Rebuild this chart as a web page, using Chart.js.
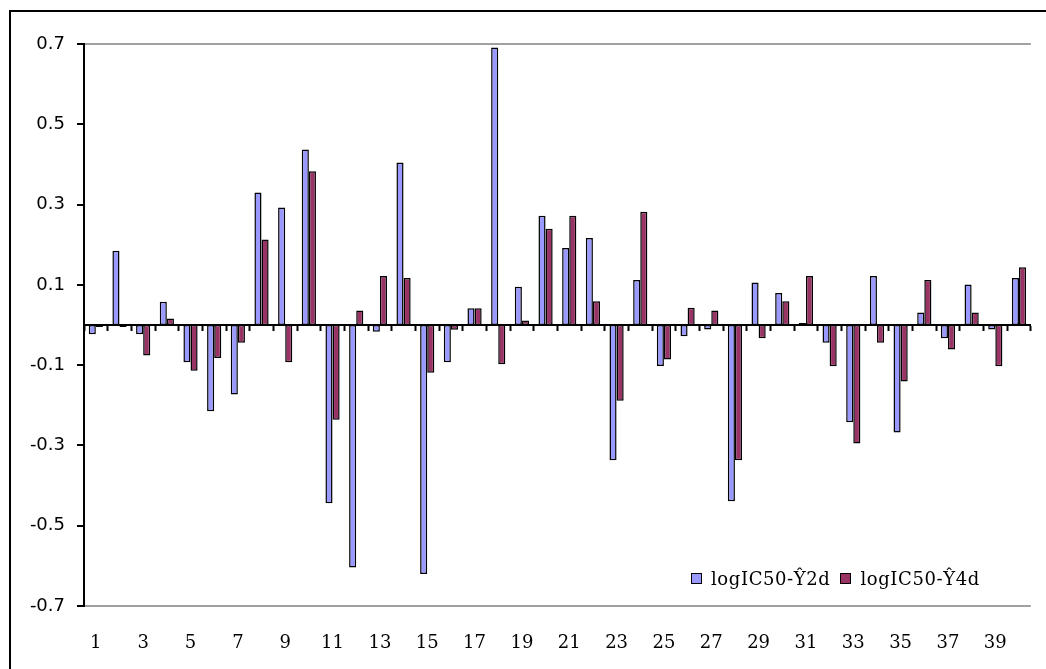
<!DOCTYPE html>
<html>
<head>
<meta charset="utf-8">
<script src="https://cdn.jsdelivr.net/npm/chart.js@4/dist/chart.umd.min.js"></script>
<style>
  html, body { margin: 0; padding: 0; background: #fff; overflow: hidden; }
  #wrap { position: relative; width: 1046px; height: 669px; }
  #frame { position: absolute; left: 9px; top: 10px; width: 1200px; height: 800px; border: 2px solid #000; box-sizing: border-box; pointer-events: none; }
  canvas { position: absolute; left: 0; top: 0; }
  #legend { position: absolute; left: 691px; top: 568px; font-family: "DejaVu Serif", serif; font-size: 18px; letter-spacing: 0.6px; color: #000; white-space: nowrap; display: flex; align-items: center; }
  .item { display: flex; align-items: center; margin-right: 10px; }
  .sw { width: 9px; height: 9px; border: 1px solid #000; margin-right: 9px; }
</style>
</head>
<body>
<div id="wrap">
  <canvas id="c" width="1046" height="669"></canvas>
  <div id="frame"></div>
  <div id="legend"></div>
</div>
<script>
const categories = ["1","2","3","4","5","6","7","8","9","10","11","12","13","14","15","16","17","18","19","20",
                    "21","22","23","24","25","26","27","28","29","30","31","32","33","34","35","36","37","38","39","40"];
const seriesNames = ["logIC50-\u01762d", "logIC50-\u01764d"];
const series2d = [-0.023, 0.185, -0.023, 0.058, -0.093, -0.215, -0.173, 0.330, 0.293, 0.437,
                  -0.444, -0.604, -0.017, 0.405, -0.620, -0.093, 0.042, 0.691, 0.095, 0.272,
                  0.192, 0.217, -0.337, 0.112, -0.102, -0.028, -0.011, -0.439, 0.106, 0.080,
                  0.005, -0.044, -0.242, 0.122, -0.268, 0.031, -0.033, 0.101, -0.011, 0.117];
const series4d = [-0.005, -0.005, -0.076, 0.016, -0.114, -0.082, -0.044, 0.213, -0.093, 0.383,
                  -0.236, 0.036, 0.122, 0.117, -0.119, -0.012, 0.042, -0.098, 0.011, 0.240,
                  0.272, 0.059, -0.189, 0.282, -0.086, 0.043, 0.036, -0.337, -0.033, 0.059,
                  0.122, -0.103, -0.295, -0.044, -0.141, 0.112, -0.061, 0.031, -0.103, 0.144];
const yTickValues = [-0.7, -0.5, -0.3, -0.1, 0.1, 0.3, 0.5, 0.7];
const seriesColors = ["#9999FF", "#993366"];

const datasets = [series2d, series4d].map((vals, i) => ({
  label: seriesNames[i],
  data: vals,
  backgroundColor: seriesColors[i],
  borderColor: "#000",
  borderWidth: 1.5,
  borderSkipped: false,
  categoryPercentage: 0.6,
  barPercentage: 1.0,
  xAxisID: "x",
  yAxisID: "y"
}));

const yMin = yTickValues[0], yMax = yTickValues[yTickValues.length - 1];

new Chart(document.getElementById("c"), {
  type: "bar",
  data: { labels: categories, datasets },
  options: {
    responsive: false,
    animation: false,
    devicePixelRatio: 1,
    layout: { padding: { top: 44, right: 2, bottom: 0, left: 0 } },
    plugins: { legend: { display: false }, tooltip: { enabled: false } },
    scales: {
      y: {
        type: "linear",
        position: "left",
        min: yMin,
        max: yMax,
        afterBuildTicks: (s) => { s.ticks = yTickValues.map(v => ({ value: v })); },
        afterFit: (s) => { s.width = 84; },
        ticks: {
          padding: 12,
          color: "#000",
          font: { family: "DejaVu Sans", size: 18 },
          callback: (v) => Number(v).toFixed(1)
        },
        grid: {
          color: (ctx) => (ctx.tick && Math.abs(Math.abs(ctx.tick.value) - yMax) < 1e-9) ? "#a0a0a0" : "rgba(0,0,0,0)",
          lineWidth: 2,
          tickColor: "#000",
          tickLength: 7,
          tickWidth: 2
        },
        border: { display: true, color: "#000", width: 2 }
      },
      x: {
        type: "category",
        position: { y: 0 },
        offset: true,
        ticks: { display: false },
        grid: { display: true, drawOnChartArea: false, offset: true, tickColor: "#000", tickLength: 5, tickWidth: 2 },
        border: { display: true, color: "#000", width: 2 }
      },
      x2: {
        type: "category",
        position: "bottom",
        labels: categories,
        offset: true,
        afterFit: (s) => { s.height = 63; },
        grid: { display: false, drawTicks: false },
        border: { display: false },
        ticks: {
          autoSkip: false,
          maxRotation: 0,
          padding: 27,
          color: "#000",
          font: { family: "DejaVu Serif", size: 18 },
          callback: (v, i) => (i % 2 === 0 ? categories[i] : "")
        }
      }
    }
  }
});

const legend = document.getElementById("legend");
seriesNames.forEach((name, i) => {
  const item = document.createElement("div");
  item.className = "item";
  const sw = document.createElement("div");
  sw.className = "sw";
  sw.style.background = seriesColors[i];
  const t = document.createElement("span");
  t.textContent = name;
  item.appendChild(sw);
  item.appendChild(t);
  legend.appendChild(item);
});
</script>
</body>
</html>
